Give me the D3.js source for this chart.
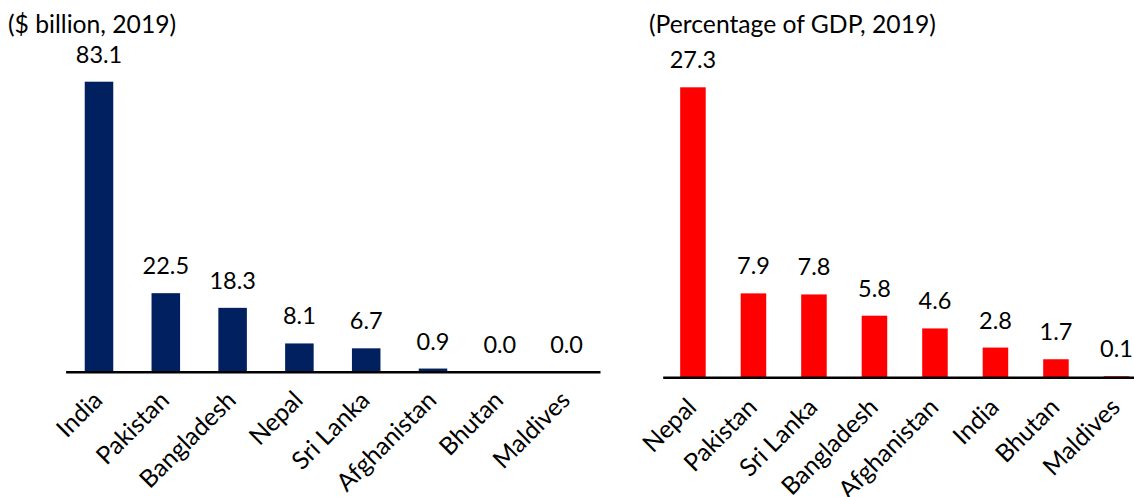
<!DOCTYPE html>
<html>
<head>
<meta charset="utf-8">
<script src="https://cdn.jsdelivr.net/npm/d3@7"></script>
<style>
  body { margin: 0; background: #fff; }
  text { font-family: Lato, "Open Sans", sans-serif; fill: #000; }
</style>
</head>
<body>
<svg id="chart" width="1134" height="497"></svg>
<script>
// left panel: remittances in $ billion
const leftCountries = ["India", "Pakistan", "Bangladesh", "Nepal", "Sri Lanka", "Afghanistan", "Bhutan", "Maldives"];
const leftValues = [83.1, 22.5, 18.3, 8.1, 6.7, 0.9, 0.0, 0.0];
const leftTitle = "($ billion, 2019)";

// right panel: remittances as % of GDP
const rightCountries = ["Nepal", "Pakistan", "Sri Lanka", "Bangladesh", "Afghanistan", "India", "Bhutan", "Maldives"];
const rightValues = [27.3, 7.9, 7.8, 5.8, 4.6, 2.8, 1.7, 0.1];
const rightTitle = "(Percentage of GDP, 2019)";

const PANELS = [
    {
        cats: leftCountries, vals: leftValues, title: leftTitle,
        color: '#002060',
        x0: 65.6, x1: 600, pad: 0.573,
        base: 371.7, top: 81.7,
        titleX: 8, labelDy: 30
    },
    {
        cats: rightCountries, vals: rightValues, title: rightTitle,
        color: '#ff0000',
        x0: 662.7, x1: 1146.7, pad: 0.578,
        base: 377.3, top: 87.3,
        titleX: 649, labelDy: 31.5
    }
];

const svg = d3.select('#chart');
const VAL_FONT = 23.5;
const LABEL_FONT = 24.7;

function drawPanel(p) {
    const g = svg.append('g');
    const xScale = d3.scaleBand().domain(p.cats).range([p.x0, p.x1])
        .paddingInner(p.pad).paddingOuter(p.pad / 2);
    const yScale = d3.scaleLinear().domain([0, d3.max(p.vals)]).range([p.base, p.top]);

    g.append('text')
        .attr('x', p.titleX)
        .attr('y', 33)
        .attr('font-size', LABEL_FONT)
        .text(p.title);

    g.selectAll('.bar')
        .data(p.vals)
        .enter()
        .append('rect')
        .attr('class', 'bar')
        .attr('x', (d, i) => xScale(p.cats[i]))
        .attr('y', (d) => yScale(d))
        .attr('width', xScale.bandwidth())
        .attr('height', (d) => p.base - yScale(d))
        .attr('fill', p.color);

    g.selectAll('.val')
        .data(p.vals)
        .enter()
        .append('text')
        .attr('class', 'val')
        .attr('x', (d, i) => xScale(p.cats[i]) + xScale.bandwidth() / 2)
        .attr('y', (d) => yScale(d) - 19)
        .attr('text-anchor', 'middle')
        .attr('font-size', VAL_FONT)
        .text((d) => d.toFixed(1));

    const axis = g.append('g')
        .attr('transform', `translate(0,${p.base})`)
        .call(d3.axisBottom(xScale).tickSize(0).tickSizeOuter(0).tickPadding(0));
    axis.select('.domain').attr('stroke', '#000').attr('stroke-width', 2.5);
    axis.selectAll('.tick text')
        .attr('font-size', LABEL_FONT)
        .attr('font-family', 'Lato, sans-serif')
        .attr('fill', '#000')
        .attr('text-anchor', 'end')
        .attr('dy', 0)
        .attr('y', 0)
        .attr('transform', `translate(5,${p.labelDy}) rotate(-45)`);
}

PANELS.forEach(drawPanel);
</script>
</body>
</html>
